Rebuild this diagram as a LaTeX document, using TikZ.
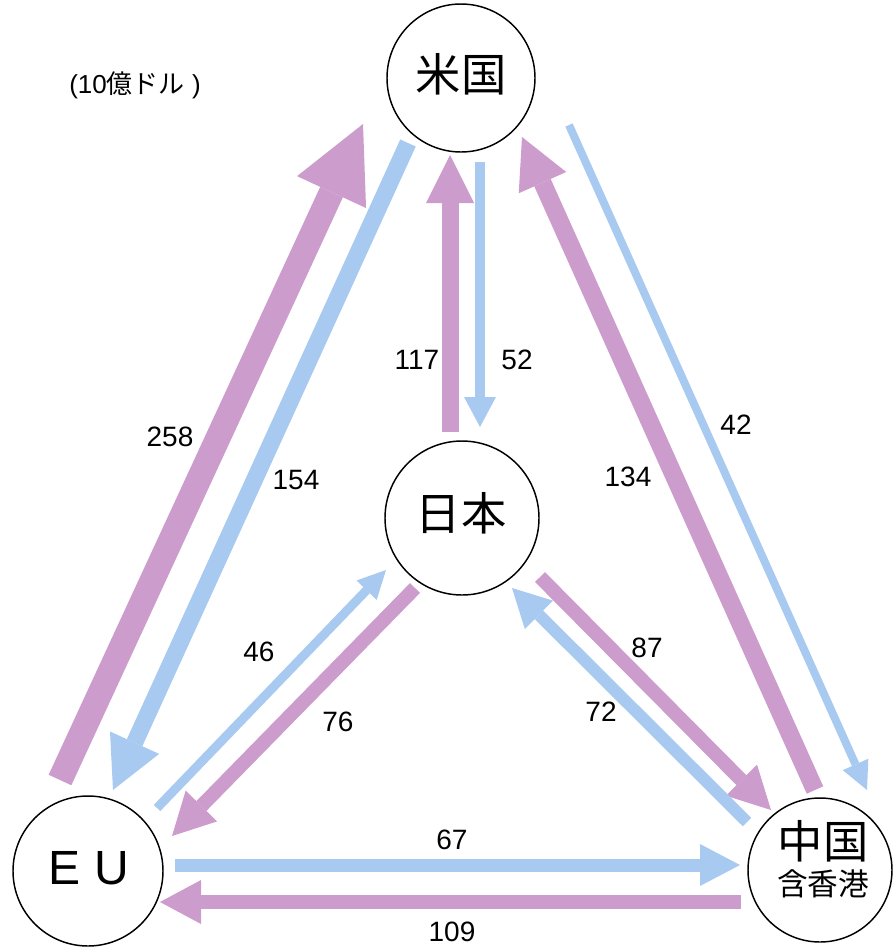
\documentclass[tikz,border=0pt]{standalone}
\usepackage{fontspec}
\setmainfont{Liberation Sans}
\newfontfamily\jfont{Noto Sans CJK JP}
\usetikzlibrary{arrows.meta}
\definecolor{purp}{RGB}{204,156,204}
\definecolor{lblue}{RGB}{168,202,240}
\begin{document}
\begin{tikzpicture}[x=0.75pt,y=-0.75pt,
  country/.style={circle, draw=black, line width=1.1pt, inner sep=0pt},
  ctext/.style={font=\jfont\fontsize{34}{36}\selectfont, inner sep=0pt},
  num/.style={font=\fontsize{21}{24}\selectfont, inner sep=0pt},
  flow/.style n args={4}{draw=#1, line width=#2pt,
    -{Triangle[width=#3pt 0, length=#4pt 0, line width=0pt 0]}}]
\useasboundingbox (0,0) rectangle (893,947);
% countries
\node[country, minimum size=111pt] (us) at (461,78) {};
\node[country, minimum size=115.5pt] (jp) at (462,518) {};
\node[country, minimum size=112.5pt] (eu) at (88,871) {};
\node[country, minimum size=108pt] (cn) at (820,870) {};
\node[ctext] (ust) at (461,74) {米国};
\node[ctext] (jpt) at (461,513) {日本};
\node[font=\fontsize{36}{40}\selectfont, inner sep=0pt] (eut) at (89,868) {E U};
\node[ctext] (cnt) at (823,841) {中国};
\node[font=\jfont\fontsize{23}{25}\selectfont, inner sep=0pt] (cnt2) at (823,884) {含香港};
\node[font=\fontsize{19.5}{22}\selectfont, inner sep=0pt] (unit) at (135,85) {(10{\jfont 億ドル} )};
% arrow end points
\coordinate (a1s) at (60,780);   \coordinate (a1e) at (363,124);
\coordinate (a2s) at (408,143);  \coordinate (a2e) at (113,790);
\coordinate (a3s) at (450,432);  \coordinate (a3e) at (450,155);
\coordinate (a4s) at (480,162);  \coordinate (a4e) at (480,427);
\coordinate (a5s) at (815,790);  \coordinate (a5e) at (522,137);
\coordinate (a6s) at (569,125);  \coordinate (a6e) at (867,790);
\coordinate (a7s) at (157,808);  \coordinate (a7e) at (386,570);
\coordinate (a8s) at (415,588);  \coordinate (a8e) at (172,836);
\coordinate (a9s) at (540,577);  \coordinate (a9e) at (771,810);
\coordinate (a10s) at (747,822); \coordinate (a10e) at (512,588);
\coordinate (a11s) at (175,865); \coordinate (a11e) at (740,865);
\coordinate (a12s) at (741,902); \coordinate (a12e) at (160,902);
% arrows
\draw[flow={purp}{18.75}{57}{56.25}] (a1s) -- (a1e);
\draw[flow={lblue}{12.75}{40.5}{39}] (a2s) -- (a2e);
\draw[flow={purp}{12.75}{36}{36}] (a3s) -- (a3e);
\draw[flow={lblue}{7.5}{24}{22.5}] (a4s) -- (a4e);
\draw[flow={purp}{13.5}{39}{37.5}] (a5s) -- (a5e);
\draw[flow={lblue}{6}{21}{21}] (a6s) -- (a6e);
\draw[flow={lblue}{6.75}{21}{21}] (a7s) -- (a7e);
\draw[flow={purp}{10.5}{33}{31.5}] (a8s) -- (a8e);
\draw[flow={purp}{10.5}{33}{31.5}] (a9s) -- (a9e);
\draw[flow={lblue}{9}{30}{28.5}] (a10s) -- (a10e);
\draw[flow={lblue}{9.75}{31.5}{30}] (a11s) -- (a11e);
\draw[flow={purp}{10.5}{33}{30.75}] (a12s) -- (a12e);
% values
\node[num] (v258) at (170,437) {258};
\node[num] (v154) at (296,480) {154};
\node[num] (v117) at (417,360) {117};
\node[num] (v52) at (517,360) {52};
\node[num] (v134) at (628,477) {134};
\node[num] (v42) at (736,425) {42};
\node[num] (v46) at (259,652) {46};
\node[num] (v76) at (338,722) {76};
\node[num] (v87) at (647,648) {87};
\node[num] (v72) at (601,712) {72};
\node[num] (v67) at (452,840) {67};
\node[num] (v109) at (452,932) {109};
\end{tikzpicture}
\end{document}
